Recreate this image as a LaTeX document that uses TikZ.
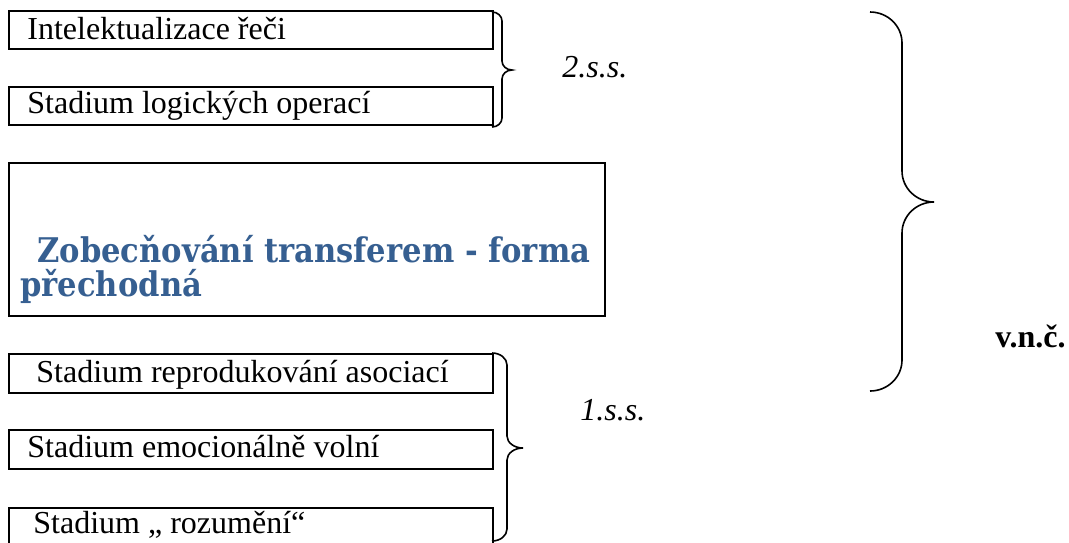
\documentclass[tikz,border=0pt]{standalone}
\usepackage{fontspec}
\setmainfont{Liberation Serif}
\newfontfamily\headfont{DejaVu Serif Condensed}
\definecolor{headblue}{RGB}{54,95,145}

% curly brace opening to the left: x0 ends, xv spine, xt tip, ytop, ymid, ybot, r hook height
\newcommand\wordbrace[7]{%
  \pgfmathsetmacro\bw{#2-#1}%
  \pgfmathsetmacro\tw{#3-#2}%
  \draw[bracepath] (#1,#4)
    .. controls ({#1+0.552*\bw},#4) and (#2,{#4+0.448*#7}) .. (#2,{#4+#7})
    -- (#2,{#5-#7})
    .. controls (#2,{#5-0.448*#7}) and ({#3-0.552*\tw},#5) .. (#3,#5)
    .. controls ({#3-0.552*\tw},#5) and (#2,{#5+0.448*#7}) .. (#2,{#5+#7})
    -- (#2,{#6-#7})
    .. controls (#2,{#6-0.448*#7}) and ({#1+0.552*\bw},#6) .. (#1,#6);%
}

\begin{document}
\begin{tikzpicture}[x=0.5pt,y=-0.5pt,
  stagebox/.style={draw=black,line width=1pt,anchor=north west,inner sep=0pt},
  stagetext/.style={anchor=base west,inner sep=0pt,font=\fontsize{16}{19}\selectfont},
  headtext/.style={anchor=base west,inner sep=0pt,text=headblue,
    font=\headfont\bfseries\fontsize{17}{19.5}\selectfont},
  grouplabel/.style={anchor=base west,inner sep=0pt,font=\fontsize{16}{19}\selectfont},
  bracepath/.style={draw=black,line width=0.8pt}]
\useasboundingbox (0,0) rectangle (1069,542);
\clip (0,0) rectangle (1069,542);

% upper stages
\node[stagebox,minimum width=242pt,minimum height=19pt] (b1) at (8,10) {};
\node[stagetext] (t1) at (27,39) {Intelektualizace řeči};
\node[stagebox,minimum width=242pt,minimum height=19pt] (b2) at (8,86) {};
\node[stagetext] (t2) at (27,113) {Stadium logických operací};

% transitional form
\node[stagebox,minimum width=298pt,minimum height=76.5pt] (b3) at (8,162) {};
\node[headtext] (t3a) at (37,262) {Zobecňování transferem - forma};
\node[headtext] (t3b) at (20,296) {přechodná};

% lower stages
\node[stagebox,minimum width=242pt,minimum height=19.5pt] (b4) at (8,353) {};
\node[stagetext] (t4) at (36,382) {Stadium reprodukování asociací};
\node[stagebox,minimum width=242pt,minimum height=19.5pt] (b5) at (8,429) {};
\node[stagetext] (t5) at (27,457) {Stadium emocionálně volní};
\node[stagebox,minimum width=242pt,minimum height=20pt] (b6) at (8,507) {};
\node[stagetext] (t6) at (33,533) {Stadium „ rozumění“};

% braces
\wordbrace{492}{502}{512}{12}{70}{127}{9}
\wordbrace{492}{507}{523}{353}{448}{541}{12}
\wordbrace{870}{902}{934}{12}{202}{391}{31}

% group labels
\node[grouplabel,font=\fontsize{16}{19}\selectfont\itshape] (l2) at (562,77) {2.s.s.};
\node[grouplabel,font=\fontsize{16}{19}\selectfont\itshape] (l1) at (580,420) {1.s.s.};
\node[grouplabel,font=\fontsize{16}{19}\selectfont\bfseries] (lv) at (995,347) {v.n.č.};
\end{tikzpicture}
\end{document}
